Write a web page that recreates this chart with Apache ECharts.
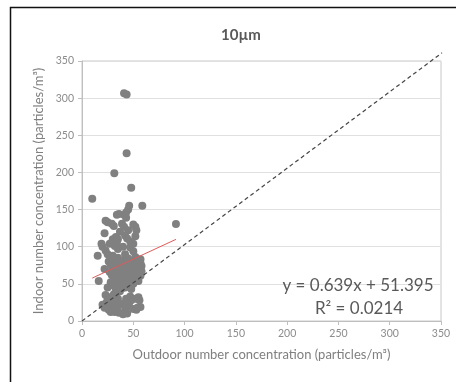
<!DOCTYPE html>
<html><head><meta charset="utf-8">
<script src="https://cdn.jsdelivr.net/npm/echarts@6/dist/echarts.min.js"></script>
<style>html,body{margin:0;padding:0;background:#fff}#c{width:456px;height:382px}</style>
</head><body><div id="c"></div>
<script>
var titleText = "10\u00b5m";
var xAxisName = "Outdoor number concentration (particles/m\u00b3)";
var yAxisName = "Indoor number concentration (particles/m\u00b3)";
var equationLine1 = "y = 0.639x + 51.395";
var equationLine2 = "R\u00b2 = 0.0214";
var axisMin = 0, axisMax = 350, axisInterval = 50;

var outlierPoints = [[41,306.5],[43.5,305],[43.5,225.7],[31.5,199],[48,179.4],[10,164.6],[58.8,155],[91.6,130.6],[15.3,88],[16.3,54]];
var upperCluster = [[46,155],[45,150],[43,146],[41,143],[34,143],[36,144],[43,139],[23,135],[25,133],[29,131],[31,128],[39,131],[41,127],[45,122],[50,130],[52,127],[53,122],[22,118],[33,113],[35,110],[34,106],[42,115],[44,111],[47,107],[50,104],[52,114],[19,104],[20,100],[32,101],[35,97],[47,99],[50,94],[23,95],[25,90],[29,87],[33,84],[42,90],[43,85],[52,86],[55,81],[57,78],[58,74],[37,120],[30,110],[40,100],[27,104]];
var middleCluster = [[26,80],[28,76],[30,72],[32,79],[34,74],[36,70],[38,77],[40,73],[42,68],[44,76],[46,71],[48,66],[50,74],[52,69],[54,64],[56,72],[58,67],[27,66],[29,62],[31,58],[33,65],[35,61],[37,57],[39,64],[41,60],[43,56],[45,63],[47,59],[49,55],[51,62],[53,58],[55,54],[57,61],[28,52],[30,48],[32,55],[34,50],[36,46],[38,53],[40,49],[42,45],[44,52],[46,48],[48,43],[50,50],[25,45],[22,70],[33,42],[37,40],[41,82],[45,84],[35,85],[30,88],[48,80],[53,78],[57,83],[39,44]];
var lowerCluster = [[20,22],[22,18],[24,25],[26,15],[28,12],[30,20],[32,26],[34,16],[36,11],[38,22],[40,9],[42,14],[44,10],[46,20],[48,28],[50,16],[52,30],[54,18],[56,28],[57,19],[23,35],[27,32],[31,36],[35,30],[43,30],[47,33],[25,28],[33,22],[41,24],[53,15],[55,32],[32,12]];
var trendLine = [[10,57.8],[91.6,109.9]];
var identityLine = [[0,0],[351,361]];

var allPoints = outlierPoints.concat(upperCluster, middleCluster, lowerCluster);
var chart = echarts.init(document.getElementById('c'), null, {renderer:'canvas'});
var fontFam = 'Lato, "Open Sans", sans-serif';
var axisCommon = {
  type:'value', min:axisMin, max:axisMax, interval:axisInterval,
  axisLine:{show:true, lineStyle:{color:'#bfbfbf', width:1}},
  axisTick:{show:true, length:4, lineStyle:{color:'#bfbfbf'}},
  splitLine:{show:true, lineStyle:{color:'#e0e0e0', width:1}},
  nameLocation:'middle',
  nameTextStyle:{color:'#7f7f7f', fontSize:13, fontFamily:fontFam}
};
chart.setOption({
  animation:false,
  backgroundColor:'#fff',
  title:{text:titleText, left:236, top:23, textAlign:'center',
    textStyle:{fontSize:15, fontWeight:'bold', color:'#595959', fontFamily:fontFam}},
  grid:{left:82, right:15, top:61, bottom:61, show:true, borderColor:'#c8c8c8', borderWidth:1, backgroundColor:'transparent'},
  xAxis:Object.assign({}, axisCommon, {name:xAxisName, nameGap:27, splitLine:{show:false},
    axisLabel:{color:'#8c8c8c', fontSize:10.5, fontFamily:fontFam, margin:7}}),
  yAxis:Object.assign({}, axisCommon, {name:yAxisName, nameGap:36,
    axisLabel:{color:'#8c8c8c', fontSize:10.5, fontFamily:fontFam, margin:8}}),
  series:[
    {type:'scatter', data:allPoints, symbolSize:8, itemStyle:{color:'#808080', opacity:1}, z:2},
    {type:'line', data:trendLine, showSymbol:false, symbol:'none', lineStyle:{color:'#e05a5a', width:1}, z:3},
    {type:'line', data:identityLine, showSymbol:false, symbol:'none', clip:false, lineStyle:{color:'#444', width:1.2, type:[4,3]}, z:4}
  ],
  graphic:[
    {type:'rect', shape:{x:10.5, y:7.5, width:600, height:600}, style:{fill:'none', stroke:'#111', lineWidth:1.5}, z:100},
    {type:'text', x:358, y:286, style:{text:equationLine1, fill:'#595959', font:'17px '+fontFam, align:'center', verticalAlign:'middle'}, z:100},
    {type:'text', x:359, y:309, style:{text:equationLine2, fill:'#595959', font:'17px '+fontFam, align:'center', verticalAlign:'middle'}, z:100}
  ]
});
</script></body></html>
